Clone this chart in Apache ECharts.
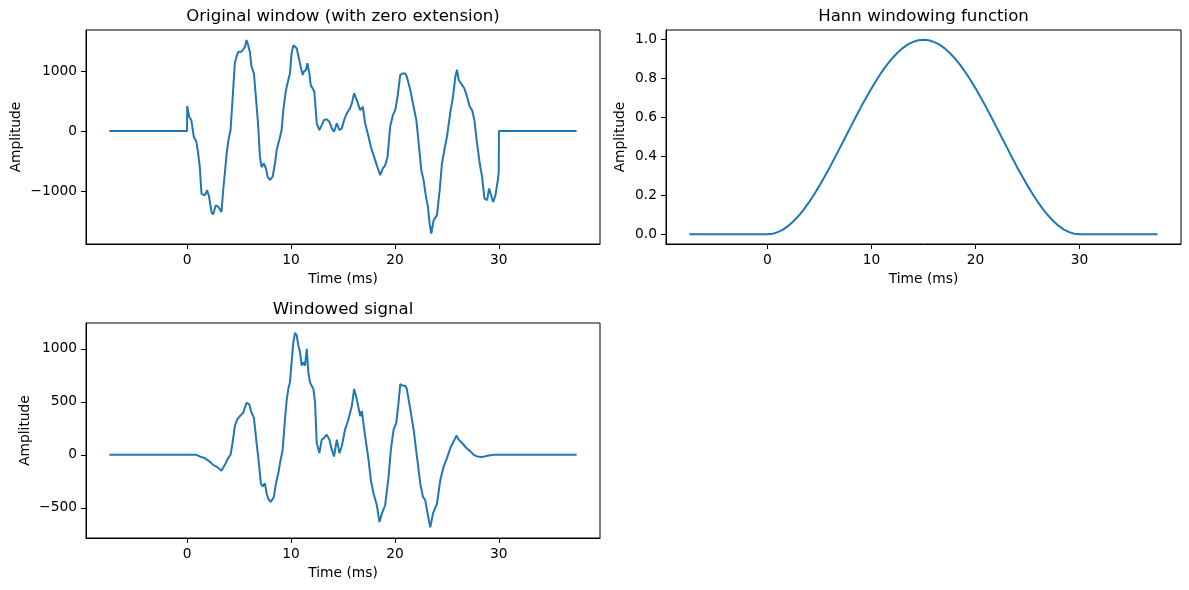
<!DOCTYPE html>
<html>
<head>
<meta charset="utf-8">
<script src="https://cdn.jsdelivr.net/npm/echarts@6/dist/echarts.min.js"></script>
<style>
html,body{margin:0;padding:0;background:#fff;}
#c{width:1189px;height:590px;}
</style>
</head>
<body>
<div id="c"></div>
<script>
// ---- Data ----
const xTicks = [0, 10, 20, 30];
const yTicksOrig = [-1000, 0, 1000];
const yTicksHann = [0, 0.2, 0.4, 0.6, 0.8, 1.0];
const yTicksWin = [-500, 0, 500, 1000];

const origTime = [-7.5, -0.02, 0.00, 0.18, 0.40, 0.63, 0.88, 1.05, 1.21, 1.37, 1.69, 1.91, 2.11, 2.33, 2.49, 2.75, 2.98, 3.30, 3.46, 3.62, 3.78, 3.94, 4.17, 4.36, 4.58, 4.75, 4.91, 5.23, 5.39, 5.55, 5.71, 5.87, 6.03, 6.19, 6.42, 6.61, 6.84, 7.00, 7.16, 7.38, 7.58, 7.74, 7.96, 8.22, 8.45, 8.61, 8.86, 9.09, 9.25, 9.51, 9.73, 9.89, 10.05, 10.22, 10.38, 10.54, 10.79, 10.92, 11.12, 11.24, 11.44, 11.57, 11.76, 11.89, 12.08, 12.24, 12.47, 12.72, 12.95, 13.18, 13.43, 13.69, 13.92, 14.14, 14.40, 14.66, 14.88, 15.11, 15.36, 15.68, 15.85, 16.07, 16.33, 16.65, 16.91, 17.13, 17.46, 17.68, 17.94, 18.26, 18.58, 18.84, 19.06, 19.29, 19.54, 19.80, 20.03, 20.25, 20.51, 20.77, 20.99, 21.15, 21.48, 21.80, 22.06, 22.29, 22.54, 22.76, 22.99, 23.18, 23.34, 23.50, 23.73, 24.05, 24.31, 24.53, 24.76, 25.01, 25.34, 25.59, 25.82, 25.98, 26.14, 26.37, 26.69, 26.95, 27.20, 27.43, 27.65, 27.91, 28.17, 28.39, 28.62, 28.88, 29.07, 29.26, 29.46, 29.68, 29.91, 30.00, 30.02, 37.5];
const origAmp = [0, 0, 417, 240, 180, -95, -180, -370, -600, -1040, -1070, -985, -1095, -1345, -1390, -1235, -1260, -1345, -985, -705, -400, -180, 17, 515, 1130, 1240, 1320, 1320, 1320, 1400, 1515, 1430, 1320, 1075, 960, 570, 70, -430, -600, -540, -620, -760, -815, -760, -540, -315, -150, 17, 350, 685, 850, 960, 1295, 1430, 1460, 1380, 1185, 1075, 935, 990, 1020, 1130, 960, 765, 710, 655, 130, 17, 100, 185, 195, 155, 45, -10, 130, 17, 45, 185, 295, 380, 460, 630, 515, 350, 405, 130, -95, -260, -400, -570, -735, -620, -570, -430, 70, 265, 350, 570, 935, 960, 960, 905, 685, 405, 185, -205, -650, -815, -1095, -1260, -1540, -1705, -1485, -1400, -985, -540, -315, -95, 320, 570, 905, 1020, 850, 795, 710, 570, 405, 350, 185, -205, -540, -760, -1120, -1150, -955, -985, -1180, -1070, -815, -680, 0, 0];

const hannTime = [-7.5, 0, 0.5, 1, 1.5, 2, 2.5, 3, 3.5, 4, 4.5, 5, 5.5, 6, 6.5, 7, 7.5, 8, 8.5, 9, 9.5, 10, 10.5, 11, 11.5, 12, 12.5, 13, 13.5, 14, 14.5, 15, 15.5, 16, 16.5, 17, 17.5, 18, 18.5, 19, 19.5, 20, 20.5, 21, 21.5, 22, 22.5, 23, 23.5, 24, 24.5, 25, 25.5, 26, 26.5, 27, 27.5, 28, 28.5, 29, 29.5, 30, 37.5];
const hannValue = [0, 0, 0.003, 0.011, 0.024, 0.043, 0.067, 0.095, 0.128, 0.165, 0.206, 0.250, 0.297, 0.345, 0.396, 0.448, 0.500, 0.552, 0.604, 0.655, 0.703, 0.750, 0.794, 0.835, 0.872, 0.905, 0.933, 0.957, 0.976, 0.989, 0.997, 1.000, 0.997, 0.989, 0.976, 0.957, 0.933, 0.905, 0.872, 0.835, 0.794, 0.750, 0.703, 0.655, 0.604, 0.552, 0.500, 0.448, 0.396, 0.345, 0.297, 0.250, 0.206, 0.165, 0.128, 0.095, 0.067, 0.043, 0.024, 0.011, 0.003, 0, 0];

const winTime = [-7.5, 0.88, 1.21, 1.69, 2.17, 2.49, 2.82, 3.30, 3.62, 3.94, 4.17, 4.36, 4.58, 4.81, 5.07, 5.39, 5.55, 5.71, 5.97, 6.19, 6.42, 6.68, 6.90, 7.09, 7.26, 7.48, 7.64, 7.80, 8.03, 8.16, 8.35, 8.54, 8.77, 8.93, 9.19, 9.41, 9.57, 9.73, 9.89, 10.05, 10.22, 10.38, 10.54, 10.70, 10.86, 11.02, 11.18, 11.34, 11.51, 11.66, 11.82, 11.98, 12.15, 12.31, 12.47, 12.72, 12.95, 13.18, 13.43, 13.69, 13.92, 14.14, 14.40, 14.66, 14.88, 15.20, 15.52, 15.85, 16.07, 16.33, 16.65, 16.81, 17.13, 17.46, 17.68, 17.94, 18.26, 18.51, 18.74, 19.06, 19.39, 19.61, 19.87, 20.13, 20.35, 20.51, 20.77, 20.99, 21.15, 21.48, 21.80, 22.12, 22.44, 22.70, 22.92, 23.15, 23.41, 23.66, 24.05, 24.37, 24.69, 25.01, 25.34, 25.66, 25.92, 26.14, 26.47, 26.88, 27.27, 27.59, 27.91, 28.39, 28.88, 29.52, 37.5];
const winAmp = [0, 0, -16, -32, -64, -95, -111, -150, -95, -32, 0, 110, 270, 333, 365, 397, 445, 490, 476, 397, 350, 110, -80, -270, -300, -270, -365, -413, -445, -460, -397, -270, -175, -80, 48, 333, 508, 620, 683, 873, 1064, 1150, 1127, 1032, 968, 841, 873, 841, 1000, 778, 683, 651, 620, 492, 110, 16, 143, 159, 190, 143, 48, -16, 143, 16, 80, 238, 333, 460, 620, 524, 365, 413, 175, -48, -238, -365, -476, -635, -556, -476, -206, 48, 238, 301, 492, 667, 651, 651, 620, 429, 238, -16, -270, -397, -429, -556, -685, -556, -460, -238, -111, -32, 64, 127, 181, 143, 111, 64, 32, 0, -16, -22, -10, 0, 0];

// ---- Chart ----
const FONT = '"DejaVu Sans", "Liberation Sans", sans-serif';
const C0 = '#1f77b4';
const zip = (a, b) => a.map((t, i) => [t, b[i]]);
const fmtInt = v => (v < 0 ? '\u2212' + Math.abs(v) : String(v));
const fmtHann = v => v.toFixed(1);

function xAx(gi) {
  return {
    type: 'value', gridIndex: gi, min: -9.75, max: 39.75,
    axisLine: { show: true, onZero: false, lineStyle: { color: '#000', width: 1 } },
    axisTick: { show: true, length: 5, customValues: xTicks, lineStyle: { color: '#000', width: 1 } },
    axisLabel: { customValues: xTicks, margin: 9, color: '#000', fontSize: 13.8, fontFamily: FONT },
    splitLine: { show: false }
  };
}
function yAx(gi, min, max, ticks, fmt) {
  return {
    type: 'value', gridIndex: gi, min: min, max: max,
    axisLine: { show: true, onZero: false, lineStyle: { color: '#000', width: 1 } },
    axisTick: { show: true, length: 5, customValues: ticks, lineStyle: { color: '#000', width: 1 } },
    axisLabel: { customValues: ticks, margin: 9, color: '#000', fontSize: 13.8, fontFamily: FONT, formatter: fmt },
    splitLine: { show: false }
  };
}
function txt(text, x, y, size, rot) {
  return {
    type: 'text', x: x, y: y, rotation: rot || 0, silent: true,
    style: { text: text, fill: '#000', fontSize: size, fontFamily: FONT, align: 'center', verticalAlign: 'middle' }
  };
}
function line(xi, yi, data) {
  return {
    type: 'line', xAxisIndex: xi, yAxisIndex: yi, data: data, showSymbol: false, symbol: 'none',
    lineStyle: { color: C0, width: 2 }, itemStyle: { color: C0 }, animation: false
  };
}

const chart = echarts.init(document.getElementById('c'), null, { renderer: 'canvas' });
chart.setOption({
  backgroundColor: '#fff',
  animation: false,
  grid: [
    { left: 86, top: 30, width: 514, height: 214, show: true, borderColor: '#000', borderWidth: 1, backgroundColor: 'transparent' },
    { left: 666, top: 30, width: 515, height: 214, show: true, borderColor: '#000', borderWidth: 1, backgroundColor: 'transparent' },
    { left: 86, top: 323, width: 514, height: 215, show: true, borderColor: '#000', borderWidth: 1, backgroundColor: 'transparent' }
  ],
  xAxis: [xAx(0), xAx(1), xAx(2)],
  yAxis: [
    yAx(0, -1880, 1683, yTicksOrig, fmtInt),
    yAx(1, -0.05, 1.05, yTicksHann, fmtHann),
    yAx(2, -785, 1243, yTicksWin, fmtInt)
  ],
  series: [
    line(0, 0, zip(origTime, origAmp)),
    line(1, 1, zip(hannTime, hannValue)),
    line(2, 2, zip(winTime, winAmp))
  ],
  graphic: [
    txt('Original window (with zero extension)', 343, 17, 16.6),
    txt('Hann windowing function', 923.5, 17, 16.6),
    txt('Windowed signal', 343, 309.5, 16.6),
    txt('Amplitude', 16, 137, 13.8, Math.PI / 2),
    txt('Amplitude', 620, 137, 13.8, Math.PI / 2),
    txt('Amplitude', 25, 430.5, 13.8, Math.PI / 2),
    txt('Time (ms)', 343, 279, 13.8),
    txt('Time (ms)', 923.5, 279, 13.8),
    txt('Time (ms)', 343, 573, 13.8)
  ]
});
</script>
</body>
</html>
